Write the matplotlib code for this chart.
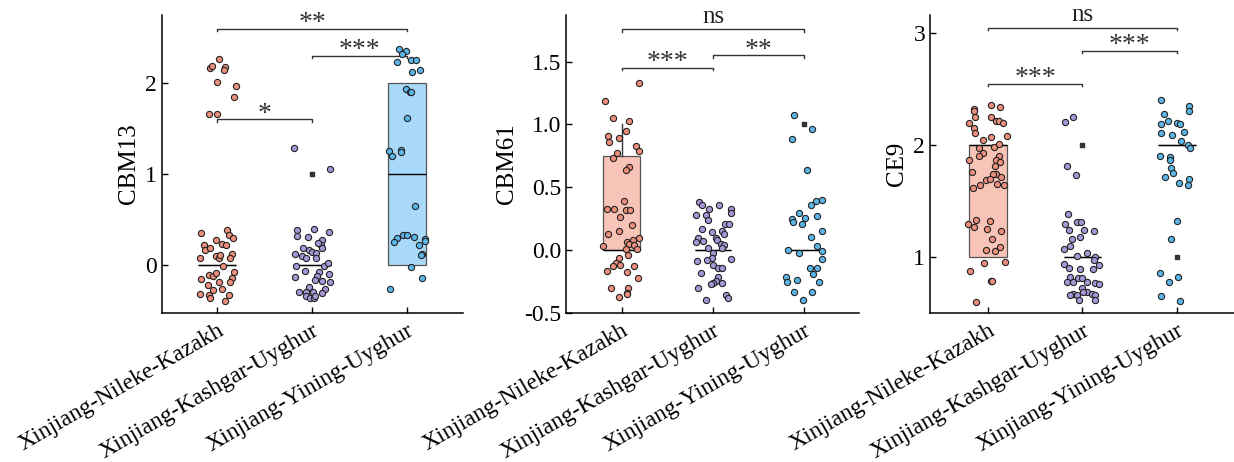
import matplotlib
matplotlib.use("Agg")
import matplotlib.pyplot as plt

plt.rcParams['font.family'] = ['Liberation Serif', 'DejaVu Serif']
plt.rcParams['axes.linewidth'] = 1.1

groups = ['Xinjiang-Nileke-Kazakh', 'Xinjiang-Kashgar-Uyghur', 'Xinjiang-Yining-Uyghur']
point_colors = ['#EC8F7C', '#A797D8', '#5DB6E8']
box_colors = ['#F9C4B8', '#D9D2F0', '#A9D9F8']

# ---- CBM13 ----
cbm13_kaz_dx = [-0.07, -0.05, 0.018, 0.08, 0.07, 0.0, 0.2, 0.175, -0.09, 0.0,
                -0.165, 0.105, 0.125, 0.17, -0.14, -0.015, 0.05, 0.09, -0.125, -0.07,
                0.16, -0.18, -0.01, 0.02, 0.035, 0.14, 0.06, -0.08, -0.045, -0.015,
                0.18, -0.165, 0.155, 0.135, 0.02, -0.095, 0.05, -0.04, -0.18, -0.08,
                0.125, -0.07, 0.08]
cbm13_kaz_y = [2.165, 2.19, 2.27, 2.18, 2.14, 2.01, 1.97, 1.85, 1.66, 1.66,
               0.35, 0.38, 0.33, 0.30, 0.22, 0.27, 0.23, 0.22, 0.16, 0.19,
               0.12, 0.08, 0.10, 0.08, 0.11, 0.07, -0.015, -0.11, -0.12, -0.095,
               -0.08, -0.155, -0.145, -0.19, -0.19, -0.22, -0.265, -0.28, -0.32, -0.33,
               -0.33, -0.37, -0.40]
cbm13_kas_dx = [-0.19, 0.19, -0.155, -0.16, 0.02, -0.045, 0.175, 0.11, 0.09, 0.06,
                0.11, -0.09, -0.035, 0.005, 0.045, -0.18, -0.11, -0.065, 0.04, -0.17,
                0.13, 0.17, 0.07, -0.07, 0.175, -0.18, 0.05, 0.035, 0.185, 0.10,
                -0.03, 0.14, -0.06, -0.14, 0.015, 0.10, -0.06, -0.02, 0.02, 0.03]
cbm13_kas_y = [1.29, 1.06, 0.38, 0.32, 0.40, 0.31, 0.36, 0.27, 0.22, 0.24,
               0.18, 0.18, 0.16, 0.14, 0.13, 0.12, 0.10, 0.08, 0.08, -0.01,
               -0.015, 0.02, -0.08, -0.07, -0.10, -0.13, -0.125, -0.17, -0.19, -0.18,
               -0.24, -0.27, -0.30, -0.30, -0.30, -0.31, -0.34, -0.36, -0.37, -0.345]
cbm13_yin_dx = [-0.085, -0.007, -0.05, -0.1, 0.04, 0.1, 0.14, 0.055, -0.007, 0.035,
                0.045, 0.003, -0.19, -0.16, -0.06, -0.06, 0.085, -0.11, -0.14, -0.04,
                0.0, 0.07, 0.185, 0.195, 0.13, 0.155, 0.145, 0.045, 0.155, -0.175]
cbm13_yin_y = [2.38, 2.355, 2.32, 2.23, 2.25, 2.26, 2.15, 2.12, 1.94, 1.90,
               1.90, 1.62, 1.25, 1.20, 1.26, 1.24, 0.65, 0.30, 0.25, 0.33,
               0.33, 0.31, 0.29, 0.26, 0.22, 0.12, 0.11, -0.025, -0.145, -0.27]

# ---- CBM61 ----
cbm61_kaz_dx = [0.19, -0.18, -0.095, 0.075, 0.05, -0.15, -0.135, -0.03, 0.16, 0.185,
                -0.05, -0.09, 0.085, 0.05, 0.025, -0.16, -0.085, 0.045, 0.09, -0.02,
                0.11, -0.025, -0.15, 0.195, 0.125, 0.055, 0.085, 0.135, 0.165, -0.205,
                0.05, 0.07, -0.03, -0.06, -0.02, -0.1, 0.135, -0.16, 0.06, 0.18,
                -0.12, 0.07, 0.06, -0.03, 0.06]
cbm61_kaz_y = [1.33, 1.19, 1.05, 1.03, 0.95, 0.905, 0.86, 0.89, 0.83, 0.79,
               0.77, 0.73, 0.66, 0.64, 0.39, 0.33, 0.33, 0.32, 0.32, 0.26,
               0.20, 0.155, 0.13, 0.10, 0.08, 0.065, 0.045, 0.04, 0.01, 0.03,
               0.01, -0.04, -0.06, -0.10, -0.12, -0.125, -0.125, -0.165, -0.17, -0.225,
               -0.30, -0.30, -0.34, -0.375, -0.35]
cbm61_kas_dx = [-0.155, -0.12, 0.07, 0.2, -0.04, 0.2, -0.19, -0.075, -0.055, 0.13,
                0.18, -0.12, -0.015, 0.10, 0.125, -0.16, 0.035, -0.11, 0.045, 0.085,
                0.12, -0.19, -0.05, 0.0, 0.1, -0.015, -0.18, -0.07, 0.2, 0.0,
                0.06, 0.1, -0.135, 0.05, 0.03, 0.0, 0.1, -0.02, -0.16, 0.14,
                0.17, -0.075]
cbm61_kas_y = [0.38, 0.36, 0.355, 0.33, 0.325, 0.295, 0.28, 0.28, 0.24, 0.21,
               0.21, 0.165, 0.145, 0.155, 0.13, 0.10, 0.10, 0.07, 0.08, 0.05,
               0.04, 0.065, 0.02, -0.02, 0.02, -0.06, -0.085, -0.075, -0.07, -0.12,
               -0.14, -0.145, -0.185, -0.21, -0.245, -0.265, -0.265, -0.27, -0.30, -0.355,
               -0.38, -0.40]
cbm61_yin_dx = [-0.11, 0.08, -0.13, 0.03, 0.2, 0.13, 0.075, -0.055, 0.005, -0.13,
                0.14, -0.12, -0.02, 0.195, 0.075, 0.145, -0.175, 0.19, -0.055, 0.2,
                0.06, 0.14, -0.195, -0.19, -0.075, 0.1, 0.16, -0.11, 0.09, -0.01]
cbm61_yin_y = [1.075, 0.965, 0.88, 0.64, 0.40, 0.39, 0.355, 0.295, 0.255, 0.25,
               0.27, 0.225, 0.21, 0.155, 0.105, 0.03, 0.0, -0.005, -0.025, -0.07,
               -0.145, -0.145, -0.21, -0.255, -0.24, -0.19, -0.25, -0.335, -0.335, -0.40]

# ---- CE9 ----
ce9_kaz_dx = [0.03, 0.13, -0.15, -0.145, -0.14, 0.03, -0.195, 0.09, 0.12, 0.165,
              -0.15, -0.14, 0.2, 0.035, -0.055, 0.07, 0.12, -0.09, -0.05, -0.09,
              0.12, -0.2, 0.09, 0.13, 0.08, -0.165, 0.09, 0.05, 0.14, -0.015,
              0.025, 0.17, -0.08, 0.1, -0.16, -0.205, -0.125, -0.15, 0.025, -0.005,
              0.14, 0.045, -0.015, 0.08, 0.13, 0.18, -0.045, -0.185, 0.03, 0.04,
              -0.12]
ce9_kaz_y = [2.36, 2.34, 2.32, 2.30, 2.25, 2.25, 2.20, 2.21, 2.21, 2.20,
             2.15, 2.105, 2.08, 2.07, 2.04, 1.985, 2.01, 1.97, 1.93, 1.905,
             1.90, 1.865, 1.87, 1.85, 1.815, 1.755, 1.74, 1.74, 1.71, 1.69,
             1.695, 1.64, 1.64, 1.65, 1.62, 1.29, 1.33, 1.27, 1.32, 1.25,
             1.23, 1.16, 1.065, 1.05, 1.09, 0.955, 0.945, 0.875, 0.785, 0.79,
             0.60]
ce9_kas_dx = [-0.1, -0.185, -0.16, -0.065, -0.15, -0.18, -0.06, -0.02, -0.145, 0.015,
              0.12, -0.03, -0.11, -0.13, -0.195, 0.045, -0.055, 0.13, -0.19, 0.125,
              0.175, -0.14, -0.03, 0.115, -0.13, -0.045, -0.16, 0.0, -0.095, 0.05,
              0.13, 0.175, -0.005, -0.1, -0.06, 0.045, 0.105, 0.13, -0.035, 0.13,
              0.01, -0.135]
ce9_kas_y = [2.25, 2.205, 1.815, 1.73, 1.38, 1.29, 1.31, 1.31, 1.245, 1.245,
             1.23, 1.18, 1.16, 1.10, 1.075, 1.04, 1.01, 1.0, 0.94, 0.97,
             0.925, 0.90, 0.895, 0.89, 0.82, 0.81, 0.78, 0.815, 0.775, 0.78,
             0.77, 0.76, 0.72, 0.67, 0.66, 0.69, 0.67, 0.66, 0.62, 0.62,
             0.685, 0.66]
ce9_yin_dx = [-0.175, 0.12, 0.12, -0.14, -0.1, 0.0, -0.175, 0.03, -0.175, -0.05,
              0.07, 0.04, 0.115, 0.14, -0.18, -0.08, -0.08, -0.07, -0.04, -0.125,
              0.12, 0.02, 0.115, 0.0, -0.065, -0.185, 0.01, -0.085, -0.175, 0.03]
ce9_yin_y = [2.40, 2.35, 2.30, 2.28, 2.21, 2.20, 2.185, 2.19, 2.105, 2.09,
             2.12, 2.035, 2.0, 1.97, 1.905, 1.895, 1.87, 1.79, 1.75, 1.715,
             1.695, 1.66, 1.64, 1.32, 1.165, 0.855, 0.825, 0.775, 0.65, 0.61]

# box summaries: q1, median, q3, whisker low, whisker high
cbm13_box = [(0, 0, 0, 0, 0), (0, 0, 0, 0, 0), (0, 1, 2, 0, 2)]
cbm61_box = [(0, 0, 0.75, 0, 1.0), (0, 0, 0, 0, 0), (0, 0, 0, 0, 0)]
ce9_box = [(1, 2, 2, 1, 2), (1, 1, 1, 1, 1), (2, 2, 2, 2, 2)]
cbm13_mean = [None, 1.0, None]
cbm61_mean = [None, None, 1.0]
ce9_mean = [None, 2.0, 1.0]

# significance: (group a, group b, height, label)
cbm13_sig = [(0, 2, 2.60, '**'), (1, 2, 2.30, '***'), (0, 1, 1.60, '*')]
cbm61_sig = [(0, 2, 1.755, 'ns'), (1, 2, 1.55, '**'), (0, 1, 1.45, '***')]
ce9_sig = [(0, 2, 3.045, 'ns'), (1, 2, 2.84, '***'), (0, 1, 2.545, '***')]

panels = [
    dict(label='CBM13', dx=[cbm13_kaz_dx, cbm13_kas_dx, cbm13_yin_dx],
         y=[cbm13_kaz_y, cbm13_kas_y, cbm13_yin_y], box=cbm13_box, mean=cbm13_mean,
         sig=cbm13_sig, ylim=(-0.53, 2.75), yticks=[0, 1, 2], fmt='%d',
         rect=[162 / 1234, 149 / 462, 301 / 1234, 298 / 462], xlim=(-0.58, 2.59)),
    dict(label='CBM61', dx=[cbm61_kaz_dx, cbm61_kas_dx, cbm61_yin_dx],
         y=[cbm61_kaz_y, cbm61_kas_y, cbm61_yin_y], box=cbm61_box, mean=cbm61_mean,
         sig=cbm61_sig, ylim=(-0.5, 1.87), yticks=[-0.5, 0.0, 0.5, 1.0, 1.5], fmt='%.1f',
         rect=[566 / 1234, 149 / 462, 293 / 1234, 298 / 462], xlim=(-0.61, 2.6)),
    dict(label='CE9', dx=[ce9_kaz_dx, ce9_kas_dx, ce9_yin_dx],
         y=[ce9_kaz_y, ce9_kas_y, ce9_yin_y], box=ce9_box, mean=ce9_mean,
         sig=ce9_sig, ylim=(0.5, 3.16), yticks=[1, 2, 3], fmt='%d',
         rect=[930 / 1234, 149 / 462, 304 / 1234, 298 / 462], xlim=(-0.61, 2.6)),
]

fig = plt.figure(figsize=(12.34, 4.62), dpi=100)

for p in panels:
    ax = fig.add_axes(p['rect'])
    stats = []
    for q1, med, q3, lo, hi in p['box']:
        stats.append(dict(q1=q1, med=med, q3=q3, whislo=lo, whishi=hi, fliers=[]))
    bp = ax.bxp(stats, positions=[0, 1, 2], widths=0.4, patch_artist=True,
                showcaps=False, showfliers=False,
                boxprops=dict(edgecolor='#555555', linewidth=0.9),
                whiskerprops=dict(color='#333333', linewidth=1.0),
                medianprops=dict(color='black', linewidth=1.0))
    for patch, c in zip(bp['boxes'], box_colors):
        patch.set_facecolor(c)
        patch.set_zorder(1)

    for i in range(3):
        xs = [i + d for d in p['dx'][i]]
        ax.scatter(xs, p['y'][i], s=20, facecolor=point_colors[i],
                   edgecolor='#222222', linewidth=0.8, zorder=3)
        if p['mean'][i] is not None:
            ax.scatter([i], [p['mean'][i]], marker='s', s=7, color='#333333', zorder=4)

    yr = p['ylim'][1] - p['ylim'][0]
    for a, b, h, txt in p['sig']:
        t = 0.008 * yr
        ax.plot([a, a, b, b], [h - t, h, h, h - t], color='#333333', linewidth=1.0)
        if txt == 'ns':
            ax.annotate(txt, xy=((a + b) / 2, h), xytext=(0, 5), textcoords='offset points',
                        ha='center', va='baseline', fontsize=18, color='#222222')
        else:
            ax.annotate(txt, xy=((a + b) / 2, h), xytext=(0, -1), textcoords='offset points',
                        ha='center', va='baseline', fontsize=20, color='#333333')

    ax.set_xlim(*p['xlim'])
    ax.set_ylim(*p['ylim'])
    ax.set_yticks(p['yticks'])
    ax.set_yticklabels([p['fmt'] % v for v in p['yticks']])
    ax.set_xticks([0, 1, 2])
    ax.set_xticklabels(groups, rotation=30, ha='right', va='top', rotation_mode='anchor')
    ax.tick_params(direction='in', length=4, width=1.0, labelsize=17)
    ax.tick_params(axis='x', pad=5)
    ax.spines['top'].set_visible(False)
    ax.spines['right'].set_visible(False)
    ax.set_ylabel(p['label'], fontsize=18)

fig.savefig('out.png', dpi=100)
